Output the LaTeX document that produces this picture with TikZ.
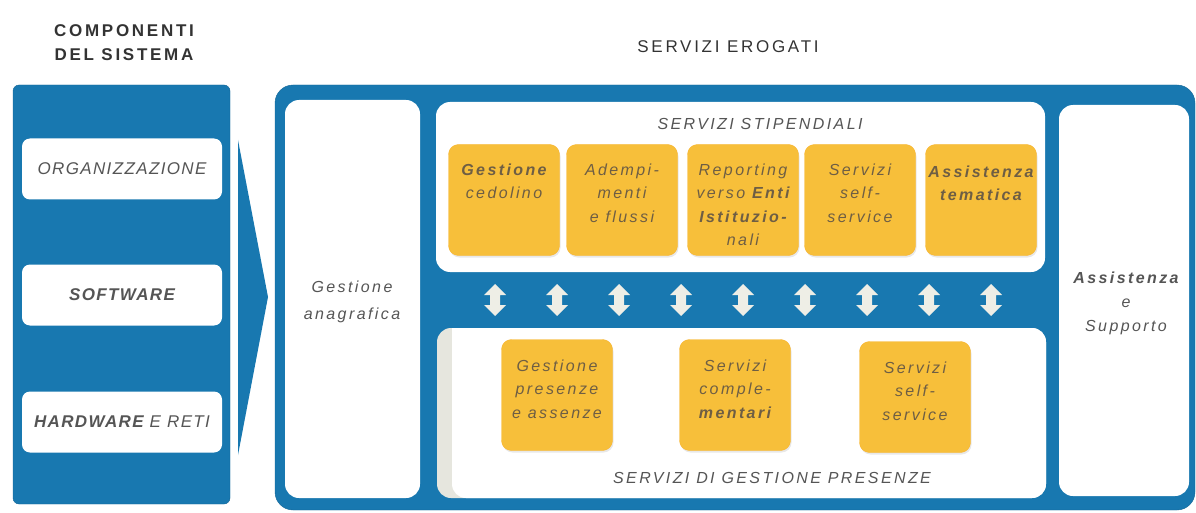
\documentclass[tikz,border=0pt]{standalone}
\usepackage{fontspec}
\setmainfont{Liberation Sans}
\newfontfamily\boxfont[LetterSpace=15]{Liberation Sans}
\newfontfamily\leftfont[LetterSpace=8]{Liberation Sans}
\newfontfamily\titlefont[LetterSpace=16]{Liberation Sans}
\usetikzlibrary{positioning,shadows}

\definecolor{panelblue}{HTML}{1878B0}
\definecolor{boxyellow}{HTML}{F7BF3A}
\definecolor{ybrown}{HTML}{6E5E44}
\definecolor{wgray}{HTML}{555555}
\definecolor{arrgray}{HTML}{EEEEE6}
\definecolor{stripgray}{HTML}{E6E6DE}

\tikzset{
  panel/.style={fill=panelblue, draw=panelblue!85!black},
  wbox/.style={fill=white, rounded corners=14pt},
  leftbox/.style={fill=white, rounded corners=8pt, minimum width=200pt, minimum height=61pt, inner sep=0pt,
    text=wgray, font=\leftfont\itshape\fontsize{17}{24}\selectfont},
  ybox/.style={fill=boxyellow, draw=boxyellow!85!orange, rounded corners=10pt, minimum width=111pt,
    minimum height=111pt, inner sep=0pt, drop shadow={opacity=0.18, shadow xshift=1pt, shadow yshift=-2pt}},
  ylabel/.style={align=center, inner sep=0pt, text=ybrown, font=\boxfont\itshape\fontsize{16}{23.5}\selectfont},
  wlabel/.style={align=center, inner sep=0pt, text=wgray, font=\boxfont\itshape\fontsize{16}{24}\selectfont},
  title/.style={align=center, text=black!80, font=\titlefont\fontsize{17}{24}\selectfont},
  updown/.style={fill=arrgray}
}

\begin{document}
\begin{tikzpicture}[x=1pt,y=-1pt]
\useasboundingbox (0,0) rectangle (1196,513);

% Titles
\node[title, font=\titlefont\bfseries\fontsize{17}{24}\selectfont] (comp) at (124,43) {COMPONENTI\\DEL SISTEMA};
\node[title] (erog) at (728,47) {SERVIZI EROGATI};

% Left panel: components
\draw[panel, rounded corners=6pt] (13,85) rectangle (230,504);
\node[leftbox] (org) at (122,169) {ORGANIZZAZIONE};
\node[leftbox] (sw) at (122,295) {\textbf{SOFTWARE}};
\node[leftbox] (hw) at (122,422) {\textbf{HARDWARE} E RETI};

% Wedge between the panels
\fill[panelblue] (238,140) -- (268,297) -- (238,455) -- cycle;

% Main panel: services
\draw[panel, rounded corners=18pt] (275,85) rectangle (1195,510);
\fill[wbox] (285,100) rectangle (420,498);
\node[wlabel] (anag) at (352,302) {Gestione\\[3pt]anagrafica};

\fill[wbox] (1059,105) rectangle (1189,496);
\node[wlabel] (ass) at (1126,303) {\textbf{Assistenza}\\e\\Supporto};

% Servizi stipendiali
\fill[wbox] (436,102) rectangle (1045,272);
\node[wlabel] (stip) at (760,124) {SERVIZI STIPENDIALI};

\node[ybox] (gc) at (504,200) {};
\node[ybox] (ad) at (622,200) {};
\node[ybox] (rep) at (743,200) {};
\node[ybox] (ss1) at (860,200) {};
\node[ybox] (at) at (981,200) {};

\node[ylabel, below=19pt of gc.north] (gcl) {\textbf{Gestione}\\cedolino};
\node[ylabel, below=19pt of ad.north] (adl) {Adempi-\\menti\\e flussi};
\node[ylabel, below=19pt of rep.north] (repl) {Reporting\\verso \textbf{Enti}\\\textbf{Istituzio-}\\nali};
\node[ylabel, below=19pt of ss1.north] (ss1l) {Servizi\\self-\\service};
\node[ylabel, below=21pt of at.north] (atl) {\textbf{Assistenza}\\\textbf{tematica}};

% Arrows between the two groups
\foreach \i in {0,...,8}
  \fill[updown, shift={(495+62*\i,300)}]
    (0,-16) -- (11,-5) -- (5,-5) -- (5,5) -- (11,5) -- (0,16)
    -- (-11,5) -- (-5,5) -- (-5,-5) -- (-11,-5) -- cycle;

% Servizi di gestione presenze
\fill[stripgray, rounded corners=14pt] (437,328) rectangle (1046,498);
\fill[white, rounded corners=14pt] (452,328) -- (1046,328) -- (1046,498) -- (452,498) [sharp corners] -- cycle;
\node[wlabel] (pres) at (772,478) {SERVIZI DI GESTIONE PRESENZE};

\node[ybox] (gp) at (557,395) {};
\node[ybox] (sc) at (735,395) {};
\node[ybox] (ss2) at (915,397) {};

\node[ylabel, below=20pt of gp.north] (gpl) {Gestione\\presenze\\e assenze};
\node[ylabel, below=20pt of sc.north] (scl) {Servizi\\comple-\\\textbf{mentari}};
\node[ylabel, below=20pt of ss2.north] (ss2l) {Servizi\\self-\\service};
\end{tikzpicture}
\end{document}
